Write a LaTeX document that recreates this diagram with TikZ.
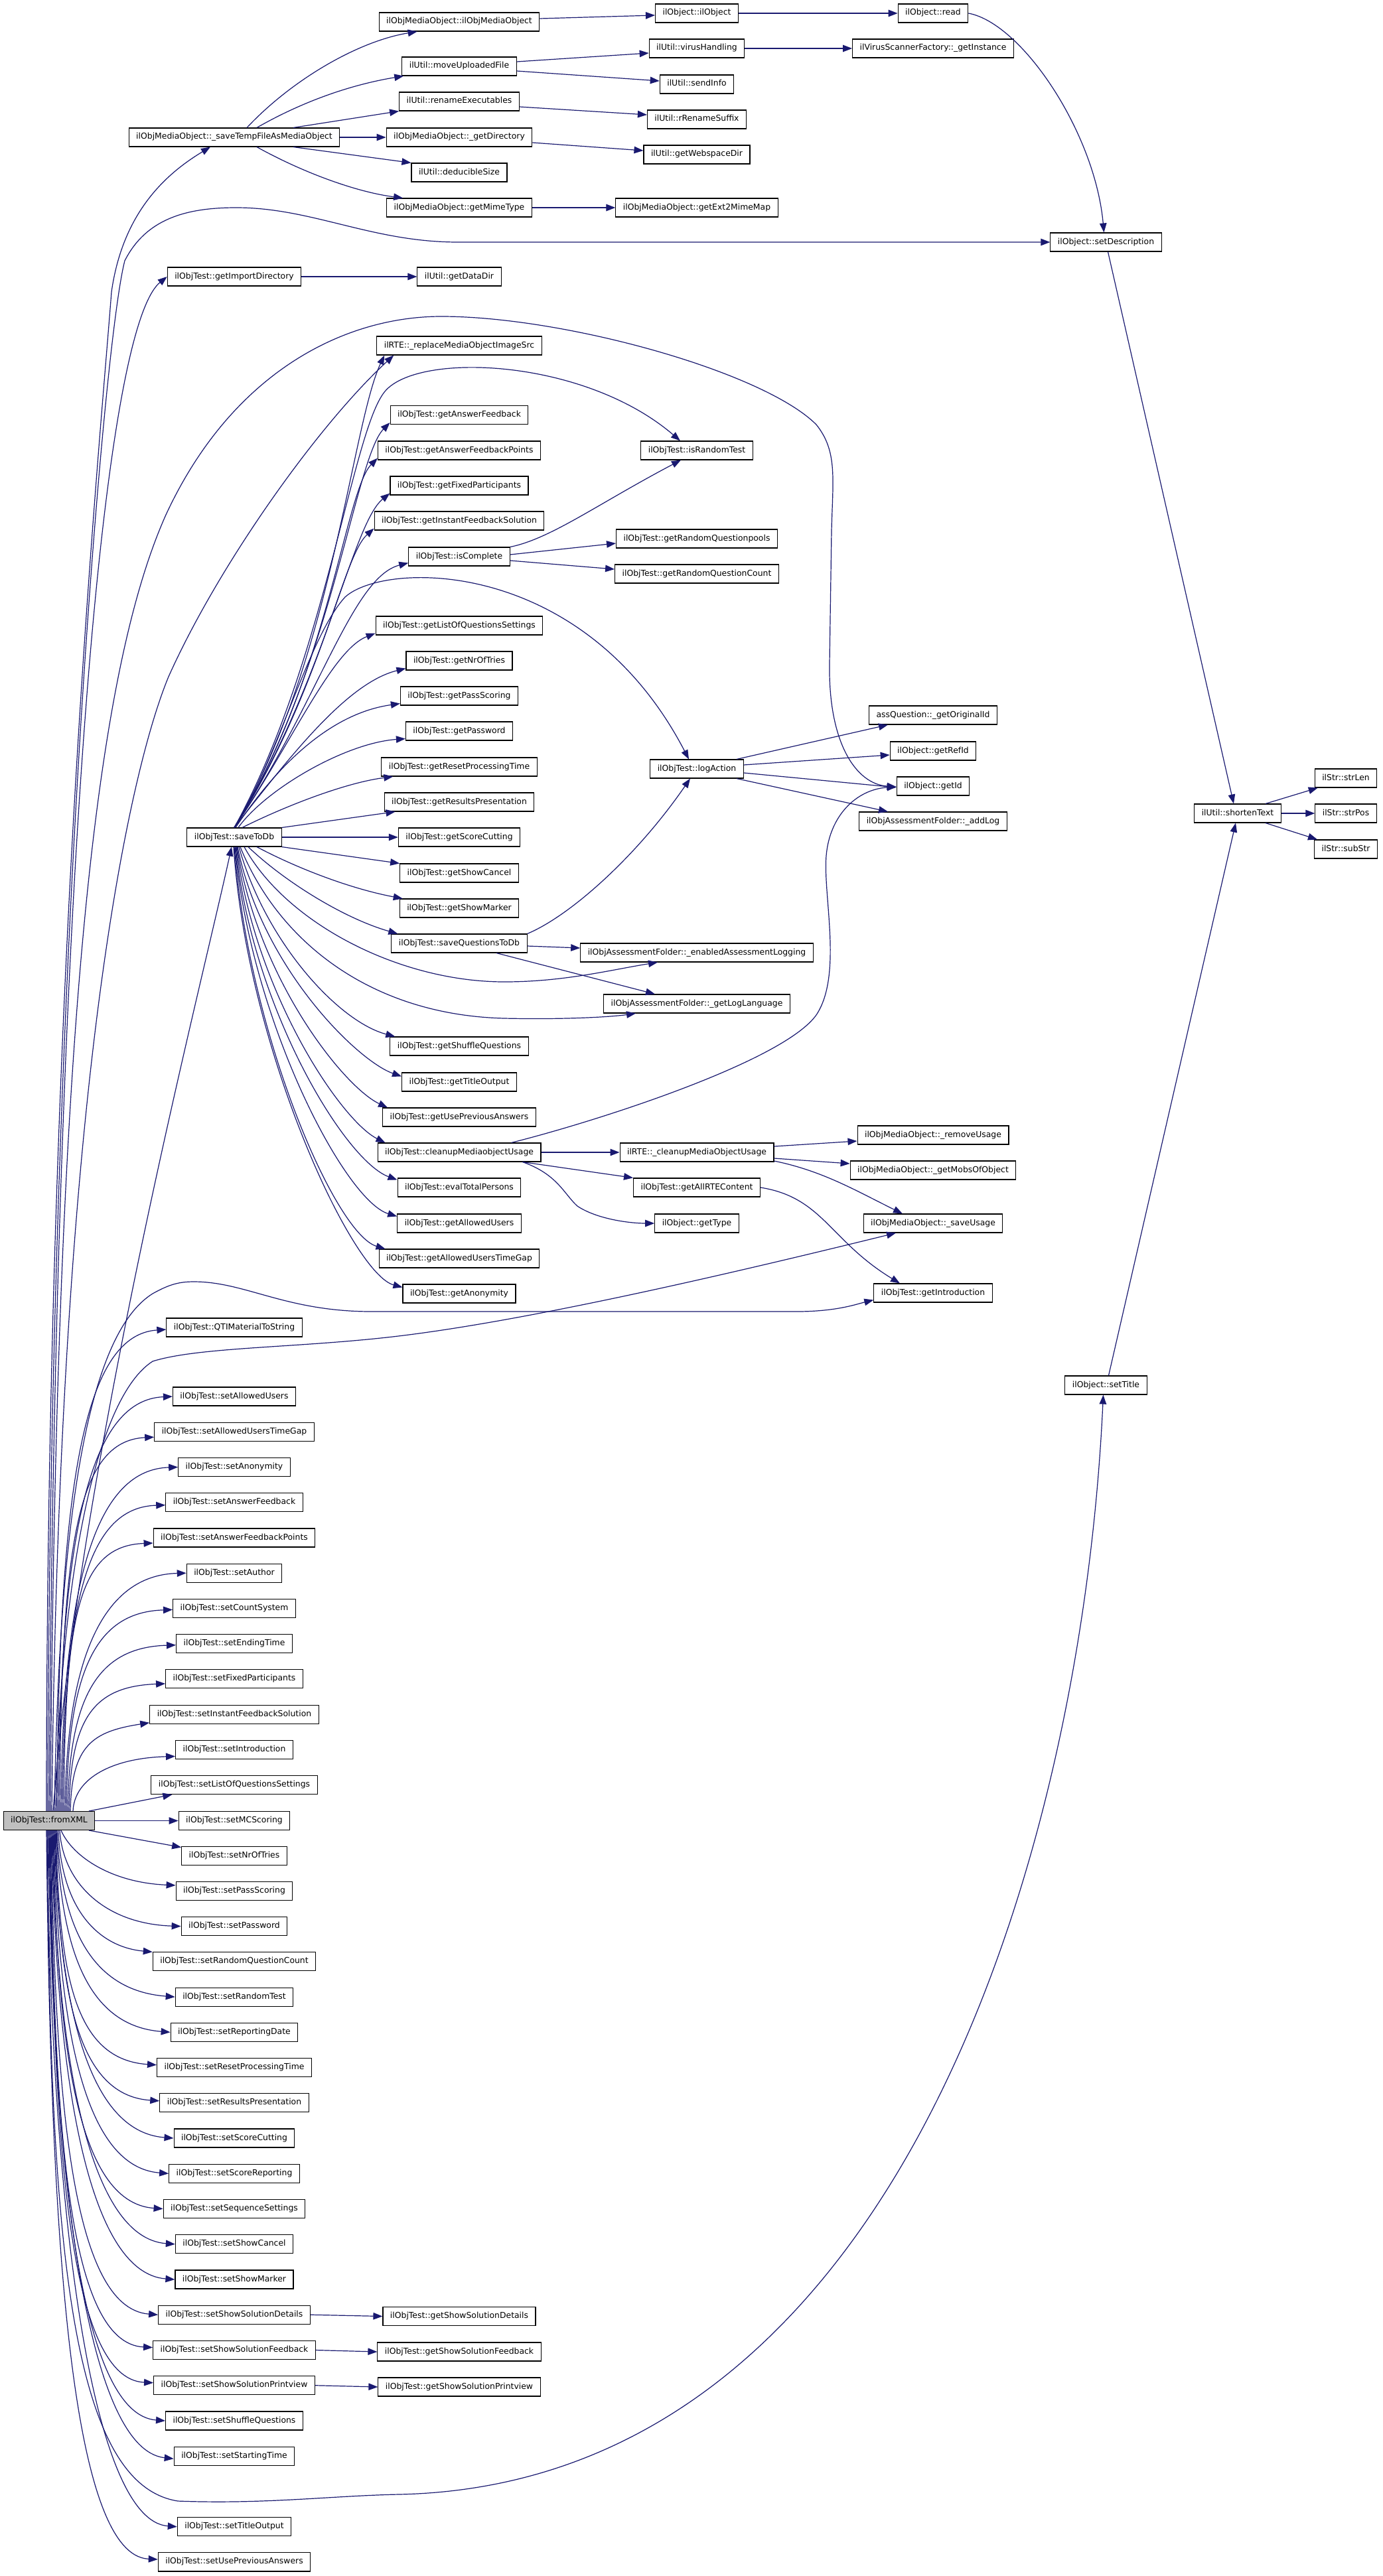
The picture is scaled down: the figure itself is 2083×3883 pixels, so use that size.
\documentclass[tikz,border=0pt]{standalone}
\usepackage{fontspec}
\newfontfamily\dvsans{DejaVu Sans}
\usetikzlibrary{arrows.meta}
\definecolor{callcolor}{HTML}{191970}
\definecolor{rootfill}{HTML}{BFBFBF}

\begin{document}
\begin{tikzpicture}[x=1pt, y=-1pt,
    fn/.style={rectangle, draw=black, fill=white, line width=1.1pt, inner xsep=11pt, inner ysep=0pt, minimum height=28pt, text height=9pt, text depth=3pt, font=\dvsans\fontsize{12.4}{14}\selectfont},
    root/.style={fn, fill=rootfill},
    call/.style={-{Triangle[length=14pt, width=10.5pt]}, draw=callcolor, line width=1.2pt},
  ]
    \path[use as bounding box, fill=white] (0,0) rectangle (2083,3883);

    \node[root] (fx) at (74,2744.5) {ilObjTest::fromXML};

    \node[fn] (stm) at (353,207) {ilObjMediaObject::\_saveTempFileAsMediaObject};
    \node[fn] (gid) at (353,417) {ilObjTest::getImportDirectory};
    \node[fn] (stdb) at (353,1262) {ilObjTest::saveToDb};
    \node[fn] (qti) at (353,2001) {ilObjTest::QTIMaterialToString};
    \node[fn] (sau) at (353,2105) {ilObjTest::setAllowedUsers};
    \node[fn] (sautg) at (353,2158.2) {ilObjTest::setAllowedUsersTimeGap};
    \node[fn] (san) at (353,2211.5) {ilObjTest::setAnonymity};
    \node[fn] (safb) at (353,2264.7) {ilObjTest::setAnswerFeedback};
    \node[fn] (safbp) at (353,2318) {ilObjTest::setAnswerFeedbackPoints};
    \node[fn] (sath) at (353,2371.2) {ilObjTest::setAuthor};
    \node[fn] (scs) at (353,2424.4) {ilObjTest::setCountSystem};
    \node[fn] (sedt) at (353,2477.7) {ilObjTest::setEndingTime};
    \node[fn] (sfp) at (353,2530.9) {ilObjTest::setFixedParticipants};
    \node[fn] (sifs) at (353,2584.2) {ilObjTest::setInstantFeedbackSolution};
    \node[fn] (sint) at (353,2637.4) {ilObjTest::setIntroduction};
    \node[fn] (slqs) at (353,2690.6) {ilObjTest::setListOfQuestionsSettings};
    \node[fn] (smcs) at (353,2744.5) {ilObjTest::setMCScoring};
    \node[fn] (snot) at (353,2797.1) {ilObjTest::setNrOfTries};
    \node[fn] (sps) at (353,2850.4) {ilObjTest::setPassScoring};
    \node[fn] (spw) at (353,2903.6) {ilObjTest::setPassword};
    \node[fn] (srqc) at (353,2956.8) {ilObjTest::setRandomQuestionCount};
    \node[fn] (srt) at (353,3010.1) {ilObjTest::setRandomTest};
    \node[fn] (srd) at (353,3063.3) {ilObjTest::setReportingDate};
    \node[fn] (srpt) at (353,3116.6) {ilObjTest::setResetProcessingTime};
    \node[fn] (srp) at (353,3169.8) {ilObjTest::setResultsPresentation};
    \node[fn] (ssc) at (353,3223) {ilObjTest::setScoreCutting};
    \node[fn] (ssr) at (353,3276.3) {ilObjTest::setScoreReporting};
    \node[fn] (sss) at (353,3329.5) {ilObjTest::setSequenceSettings};
    \node[fn] (sscl) at (353,3382.8) {ilObjTest::setShowCancel};
    \node[fn] (ssm) at (353,3436) {ilObjTest::setShowMarker};
    \node[fn] (sssd) at (353,3489.2) {ilObjTest::setShowSolutionDetails};
    \node[fn] (sssf) at (353,3542.5) {ilObjTest::setShowSolutionFeedback};
    \node[fn] (sssp) at (353,3595.7) {ilObjTest::setShowSolutionPrintview};
    \node[fn] (ssq) at (353,3649) {ilObjTest::setShuffleQuestions};
    \node[fn] (sst) at (353,3702.2) {ilObjTest::setStartingTime};
    \node[fn] (sto) at (353,3808.7) {ilObjTest::setTitleOutput};
    \node[fn] (supa) at (353,3861.9) {ilObjTest::setUsePreviousAnswers};

    \node[fn] (mob) at (692,33) {ilObjMediaObject::ilObjMediaObject};
    \node[fn] (muf) at (692,100) {ilUtil::moveUploadedFile};
    \node[fn] (rex) at (692,153) {ilUtil::renameExecutables};
    \node[fn] (gdir) at (692,207) {ilObjMediaObject::\_getDirectory};
    \node[fn] (dsz) at (692,260) {ilUtil::deducibleSize};
    \node[fn] (gmt) at (692,313) {ilObjMediaObject::getMimeType};
    \node[fn] (gdd) at (692,417) {ilUtil::getDataDir};
    \node[fn] (rms) at (692,521) {ilRTE::\_replaceMediaObjectImageSrc};
    \node[fn] (gafb) at (692,625.5) {ilObjTest::getAnswerFeedback};
    \node[fn] (gafbp) at (692,679) {ilObjTest::getAnswerFeedbackPoints};
    \node[fn] (gfp) at (692,732) {ilObjTest::getFixedParticipants};
    \node[fn] (gifs) at (692,785) {ilObjTest::getInstantFeedbackSolution};
    \node[fn] (isc) at (692,839) {ilObjTest::isComplete};
    \node[fn] (glqs) at (692,943) {ilObjTest::getListOfQuestionsSettings};
    \node[fn] (gnot) at (692,996) {ilObjTest::getNrOfTries};
    \node[fn] (gps) at (692,1049) {ilObjTest::getPassScoring};
    \node[fn] (gpw) at (692,1102) {ilObjTest::getPassword};
    \node[fn] (grpt) at (692,1156) {ilObjTest::getResetProcessingTime};
    \node[fn] (grp) at (692,1209) {ilObjTest::getResultsPresentation};
    \node[fn] (gsc) at (692,1262) {ilObjTest::getScoreCutting};
    \node[fn] (gscl) at (692,1316) {ilObjTest::getShowCancel};
    \node[fn] (gsm) at (692,1369) {ilObjTest::getShowMarker};
    \node[fn] (sqtd) at (692,1422) {ilObjTest::saveQuestionsToDb};
    \node[fn] (gsq) at (692,1577) {ilObjTest::getShuffleQuestions};
    \node[fn] (gto) at (692,1631) {ilObjTest::getTitleOutput};
    \node[fn] (gupa) at (692,1684) {ilObjTest::getUsePreviousAnswers};
    \node[fn] (cmu) at (692,1737) {ilObjTest::cleanupMediaobjectUsage};
    \node[fn] (etp) at (692,1790) {ilObjTest::evalTotalPersons};
    \node[fn] (gau) at (692,1844) {ilObjTest::getAllowedUsers};
    \node[fn] (gaut) at (692,1897) {ilObjTest::getAllowedUsersTimeGap};
    \node[fn] (gan) at (692,1950) {ilObjTest::getAnonymity};
    \node[fn] (gssd) at (692,3491.5) {ilObjTest::getShowSolutionDetails};
    \node[fn] (gssf) at (692,3545) {ilObjTest::getShowSolutionFeedback};
    \node[fn] (gssp) at (692,3598) {ilObjTest::getShowSolutionPrintview};

    \node[fn] (obj) at (1050,20) {ilObject::ilObject};
    \node[fn] (vh) at (1050,73) {ilUtil::virusHandling};
    \node[fn] (sinf) at (1050,127) {ilUtil::sendInfo};
    \node[fn] (rrs) at (1050,180) {ilUtil::rRenameSuffix};
    \node[fn] (gwd) at (1050,233) {ilUtil::getWebspaceDir};
    \node[fn] (e2m) at (1050,313) {ilObjMediaObject::getExt2MimeMap};
    \node[fn] (isr) at (1050,679) {ilObjTest::isRandomTest};
    \node[fn] (grqp) at (1050,812) {ilObjTest::getRandomQuestionpools};
    \node[fn] (grqc) at (1050,865) {ilObjTest::getRandomQuestionCount};
    \node[fn] (la) at (1050,1159) {ilObjTest::logAction};
    \node[fn] (eal) at (1050,1436) {ilObjAssessmentFolder::\_enabledAssessmentLogging};
    \node[fn] (gll) at (1050,1513) {ilObjAssessmentFolder::\_getLogLanguage};
    \node[fn] (rcmu) at (1050,1737) {ilRTE::\_cleanupMediaObjectUsage};
    \node[fn] (gart) at (1050,1790) {ilObjTest::getAllRTEContent};
    \node[fn] (gty) at (1050,1844) {ilObject::getType};

    \node[fn] (rd) at (1406,20) {ilObject::read};
    \node[fn] (vsf) at (1406,73) {ilVirusScannerFactory::\_getInstance};
    \node[fn] (goi) at (1406,1078) {assQuestion::\_getOriginalId};
    \node[fn] (gri) at (1406,1132) {ilObject::getRefId};
    \node[fn] (gi) at (1406,1185) {ilObject::getId};
    \node[fn] (alog) at (1406,1238) {ilObjAssessmentFolder::\_addLog};
    \node[fn] (rmu) at (1406,1711) {ilObjMediaObject::\_removeUsage};
    \node[fn] (gmo) at (1406,1764) {ilObjMediaObject::\_getMobsOfObject};
    \node[fn] (sus) at (1406,1844) {ilObjMediaObject::\_saveUsage};
    \node[fn] (gint) at (1406,1949) {ilObjTest::getIntroduction};

    \node[fn] (sd) at (1666.5,365) {ilObject::setDescription};
    \node[fn] (stt) at (1666.5,2088) {ilObject::setTitle};
    \node[fn] (stx) at (1865,1226) {ilUtil::shortenText};
    \node[fn] (sln) at (2028,1173) {ilStr::strLen};
    \node[fn] (spo) at (2028,1226) {ilStr::strPos};
    \node[fn] (sbs) at (2028,1280) {ilStr::subStr};

    \draw[call] ([xshift=19pt]stm.north) .. controls (440,120) and (540,62) .. ([xshift=58pt]mob.south west);
    \draw[call] ([xshift=34pt]stm.north) .. controls (470,145) and (545,125) .. ([xshift=3pt]muf.south west);
    \draw[call] ([xshift=89pt]stm.north) -- (rex.south west);
    \draw[call] (stm.east) -- (gdir.west);
    \draw[call] ([xshift=89pt]stm.south) -- (dsz.north west);
    \draw[call] ([xshift=34pt]stm.south) .. controls (460,262) and (540,290) .. ([xshift=25pt]gmt.north west);
    \draw[call] ([yshift=5pt]mob.east) -- ([yshift=-3pt]obj.west);
    \draw[call] ([yshift=7pt]muf.east) -- ([yshift=-7pt]vh.west);
    \draw[call] ([yshift=-7pt]muf.east) -- ([yshift=5pt]sinf.west);
    \draw[call] ([yshift=-8pt]rex.east) -- ([yshift=7pt]rrs.west);
    \draw[call] ([yshift=-8pt]gdir.east) -- ([yshift=6pt]gwd.west);
    \draw[call] (gmt.east) -- (e2m.west);
    \draw[call] (obj.east) -- (rd.west);
    \draw[call] (vh.east) -- (vsf.west);
    \draw[call] (gid.east) -- (gdd.west);
    \draw[call] (rd.east) .. controls (1540,35) and (1650,200) .. ([xshift=-3pt]sd.north);
    \draw[call] ([xshift=3pt]sd.south) -- ([xshift=-6pt]stx.north);
    \draw[call] ([xshift=4pt]stt.north) -- ([xshift=-3pt]stx.south);
    \draw[call] ([xshift=42pt]stx.north) -- ([xshift=5pt]sln.south west);
    \draw[call] (stx.east) -- (spo.west);
    \draw[call] ([xshift=42pt]stx.south) -- ([xshift=5pt]sbs.north west);

    \draw[call] ([xshift=-4pt]fx.north) .. controls (70,1500) and (148,700) .. (168,440) .. controls (185,320) and (250,262) .. ([xshift=-36pt]stm.south);
    \draw[call] ([xshift=-2pt]fx.north) .. controls (74,1500) and (155,520) .. (188,393) .. controls (220,330) and (280,313) .. (356,313) .. controls (470,313) and (560,365) .. (690,365) -- (sd.west);
    \draw[call] (fx.north) .. controls (82,1400) and (150,500) .. (gid.west);
    \draw[call] ([xshift=2pt]fx.north) .. controls (84,1500) and (150,1000) .. (250,776) .. controls (350,560) and (520,477) .. (665,477) .. controls (850,477) and (1150,560) .. (1230,640) .. controls (1262,680) and (1255,720) .. (1253,800) -- (1250,1000) .. controls (1248,1120) and (1290,1182) .. ([yshift=-1pt]gi.west);
    \draw[call] ([xshift=4pt]fx.north) .. controls (90,1600) and (200,1150) .. (254,1020) .. controls (330,850) and (480,640) .. ([xshift=26pt]rms.south west);
    \draw[call] ([xshift=6pt]fx.north) .. controls (120,2200) and (300,1500) .. ([xshift=-4pt]stdb.south);
    \draw[call] ([xshift=8pt]fx.north) .. controls (90,2200) and (150,2000) .. (230,1950) .. controls (255,1936) and (270,1932) .. (292,1932) .. controls (370,1932) and (430,1977) .. (560,1977) -- (1200,1977) .. controls (1260,1977) and (1290,1966) .. ([yshift=4pt]gint.south west);
    \draw[call] ([xshift=10pt]fx.north) .. controls (90,2400) and (140,2110) .. (230,2052) .. controls (300,2030) and (450,2032) .. (600,2014) .. controls (800,1990) and (1100,1920) .. ([xshift=-56pt]sus.south);
    \draw[call] ([xshift=12pt]fx.north) .. controls (88,2220) and (130,2012) .. ([yshift=-3pt]qti.west);
    \draw[call] ([xshift=14pt]fx.north) .. controls (90,2292) and (140,2110) .. (sau.west);
    \draw[call] ([xshift=16pt]fx.north) .. controls (92,2330) and (115,2172) .. ([yshift=-8pt]sautg.west);
    \draw[call] ([xshift=18pt]fx.north) .. controls (94,2367) and (150,2215) .. (san.west);
    \draw[call] ([xshift=20pt]fx.north) .. controls (96,2404) and (135,2272) .. ([yshift=-4pt]safb.west);
    \draw[call] ([xshift=22pt]fx.north) .. controls (98,2442) and (115,2330) .. ([yshift=-8pt]safbp.west);
    \draw[call] ([xshift=24pt]fx.north) .. controls (100,2479) and (165,2374) .. (sath.west);
    \draw[call] ([xshift=26pt]fx.north) .. controls (102,2516) and (145,2430) .. ([yshift=-2pt]scs.west);
    \draw[call] ([xshift=28pt]fx.north) .. controls (104,2553) and (150,2483) .. ([yshift=-2pt]sedt.west);
    \draw[call] ([xshift=30pt]fx.north) .. controls (106,2591) and (140,2542) .. ([yshift=-7pt]sfp.west);
    \draw[call] ([xshift=32pt]fx.north) .. controls (108,2630) and (140,2610) .. ([yshift=2pt]sifs.south west);
    \draw[call] ([xshift=36pt]fx.north) .. controls (112,2680) and (170,2650) .. ([yshift=-10pt]sint.west);
    \draw[call] ([xshift=60pt]fx.north) -- ([xshift=32pt]slqs.south west);
    \draw[call] (fx.east) -- (smcs.west);
    \draw[call] ([xshift=60pt]fx.south) -- ([yshift=-2pt]snot.north west);
    \draw[call] ([xshift=18pt]fx.south) .. controls (110,2800) and (170,2838) .. ([yshift=-6pt]sps.north west);
    \draw[call] ([xshift=16pt]fx.south) .. controls (95,2840) and (160,2900) .. (spw.west);
    \draw[call] ([xshift=14pt]fx.south) .. controls (92,2880) and (150,2935) .. (srqc.north west);
    \draw[call] ([xshift=12pt]fx.south) .. controls (92,2897) and (133,3000) .. (srt.west);
    \draw[call] ([xshift=11pt]fx.south) .. controls (91,2926) and (126,3053) .. (srd.west);
    \draw[call] ([xshift=10pt]fx.south) .. controls (90,2956) and (104,3104) .. ([yshift=4pt]srpt.west);
    \draw[call] ([xshift=9pt]fx.south) .. controls (89,2985) and (109,3158) .. ([yshift=3pt]srp.west);
    \draw[call] ([xshift=8pt]fx.south) .. controls (88,3014) and (130,3213) .. (ssc.west);
    \draw[call] ([xshift=7pt]fx.south) .. controls (87,3044) and (123,3266) .. (ssr.west);
    \draw[call] ([xshift=6pt]fx.south) .. controls (86,3073) and (113,3320) .. (sss.west);
    \draw[call] ([xshift=5pt]fx.south) .. controls (85,3102) and (134,3373) .. (sscl.west);
    \draw[call] ([xshift=4pt]fx.south) .. controls (84,3131) and (132,3426) .. (ssm.west);
    \draw[call] ([xshift=3pt]fx.south) .. controls (83,3161) and (107,3479) .. (sssd.west);
    \draw[call] ([xshift=2pt]fx.south) .. controls (82,3190) and (99,3532) .. ([yshift=4pt]sssf.west);
    \draw[call] ([xshift=1pt]fx.south) .. controls (81,3219) and (101,3586) .. ([yshift=4pt]sssp.west);
    \draw[call] (fx.south) .. controls (80,3248) and (118,3639) .. (ssq.west);
    \draw[call] ([xshift=-1pt]fx.south) .. controls (79,3278) and (131,3692) .. ([yshift=-4pt]sst.west);
    \draw[call] ([xshift=-2pt]fx.south) .. controls (74,3400) and (110,3745) .. (268,3770) .. controls (400,3775) and (500,3762) .. (600,3760) .. controls (1350,3745) and (1630,2800) .. ([xshift=-4pt]stt.south);
    \draw[call] ([xshift=-3pt]fx.south) .. controls (77,3336) and (137,3799) .. (sto.west);
    \draw[call] ([xshift=-4pt]fx.south) .. controls (76,3365) and (105,3852) .. ([yshift=4pt]supa.west);
    \draw[call] (sssd.east) -- (gssd.west);
    \draw[call] (sssf.east) -- (gssf.west);
    \draw[call] (sssp.east) -- (gssp.west);

    \draw[call] (stdb.north) .. controls (500,1000) and (530,640) .. ([xshift=12pt]rms.south west);
    \draw[call] (stdb.north) .. controls (500,1010) and (535,690) .. ([yshift=3pt]gafb.south west);
    \draw[call] (stdb.north) .. controls (495,1020) and (520,740) .. ([yshift=3pt]gafbp.south west);
    \draw[call] (stdb.north) .. controls (490,1030) and (530,790) .. ([yshift=3pt]gfp.south west);
    \draw[call] (stdb.north) .. controls (485,1040) and (515,840) .. ([yshift=3pt]gifs.south west);
    \draw[call] (stdb.north) .. controls (480,1060) and (530,870) .. ([yshift=5pt]isc.south west);
    \draw[call] (stdb.north) .. controls (440,1120) and (500,980) .. ([yshift=3pt]glqs.south west);
    \draw[call] (stdb.north) .. controls (430,1150) and (520,1030) .. ([yshift=3pt]gnot.south west);
    \draw[call] ([xshift=2pt]stdb.north) .. controls (420,1150) and (500,1075) .. ([yshift=3pt]gps.south west);
    \draw[call] ([xshift=6pt]stdb.north) .. controls (400,1190) and (520,1120) .. ([yshift=3pt]gpw.south west);
    \draw[call] ([xshift=12pt]stdb.north) .. controls (430,1215) and (520,1180) .. ([xshift=18pt]grpt.south west);
    \draw[call] (stdb.north east) -- ([xshift=17pt]grp.south west);
    \draw[call] (stdb.east) -- (gsc.west);
    \draw[call] (stdb.south east) -- (gscl.north west);
    \draw[call] ([xshift=34pt]stdb.south) .. controls (450,1310) and (530,1340) .. ([xshift=5pt]gsm.north west);
    \draw[call] ([xshift=21pt]stdb.south) .. controls (430,1330) and (520,1385) .. ([xshift=10pt]sqtd.north west);
    \draw[call] ([xshift=15pt]stdb.south) .. controls (430,1390) and (600,1480) .. (760,1480) .. controls (850,1480) and (920,1462) .. ([xshift=-59pt]eal.south);
    \draw[call] ([xshift=9pt]stdb.south) .. controls (420,1420) and (560,1530) .. (760,1535) .. controls (850,1537) and (920,1533) .. ([xshift=-92pt]gll.south);
    \draw[call] ([xshift=7pt]stdb.south) .. controls (400,1420) and (510,1540) .. ([xshift=8pt]gsq.north west);
    \draw[call] ([xshift=5pt]stdb.south) .. controls (395,1460) and (540,1600) .. ([yshift=-6pt]gto.north west);
    \draw[call] ([xshift=4pt]stdb.south) .. controls (390,1480) and (520,1640) .. ([xshift=8pt]gupa.north west);
    \draw[call] ([xshift=3pt]stdb.south) .. controls (385,1500) and (515,1690) .. ([xshift=12pt]cmu.north west);
    \draw[call] ([xshift=2pt]stdb.south) .. controls (380,1520) and (520,1750) .. ([yshift=-3pt]etp.north west);
    \draw[call] ([xshift=1pt]stdb.south) .. controls (378,1540) and (520,1810) .. ([yshift=-4pt]gau.north west);
    \draw[call] (stdb.south) .. controls (375,1560) and (505,1860) .. ([xshift=10pt]gaut.north west);
    \draw[call] ([xshift=-1pt]stdb.south) .. controls (372,1580) and (530,1920) .. ([yshift=-5pt]gan.north west);
    \draw[call] (stdb.north) .. controls (490,1000) and (530,650) .. (580,590) .. controls (630,530) and (880,540) .. ([xshift=-25pt]isr.north);
    \draw[call] (stdb.north) .. controls (420,1140) and (465,960) .. (520,900) .. controls (580,845) and (880,840) .. ([xshift=-12pt]la.north);

    \draw[call] (isc.north east) .. controls (830,812) and (900,760) .. ([xshift=-24pt]isr.south);
    \draw[call] ([yshift=3pt]isc.east) -- ([yshift=-7pt]grqp.west);
    \draw[call] ([yshift=-6pt]isc.east) -- ([yshift=7pt]grqc.west);
    \draw[call] (sqtd.north east) .. controls (860,1380) and (960,1290) .. ([xshift=-10pt]la.south);
    \draw[call] ([yshift=-4pt]sqtd.east) -- ([yshift=7pt]eal.west);
    \draw[call] ([xshift=56pt]sqtd.south) -- ([xshift=-63pt]gll.north);
    \draw[call] ([xshift=60pt]la.north) -- ([xshift=-68pt]goi.south);
    \draw[call] ([yshift=6pt]la.east) -- ([yshift=-6pt]gri.west);
    \draw[call] ([yshift=-6pt]la.east) -- ([yshift=-2pt]gi.west);
    \draw[call] ([xshift=60pt]la.south) -- ([xshift=-68pt]alog.north);

    \draw[call] (cmu.east) -- (rcmu.west);
    \draw[call] ([xshift=-28pt]cmu.south east) -- (gart.north west);
    \draw[call] ([xshift=-28pt]cmu.south east) .. controls (840,1770) and (850,1800) .. (870,1818) .. controls (900,1838) and (950,1844) .. (gty.west);
    \draw[call] ([xshift=-45pt]cmu.north east) .. controls (900,1690) and (1180,1600) .. (1230,1530) .. controls (1270,1470) and (1240,1350) .. (1245,1290) .. controls (1250,1230) and (1290,1190) .. ([yshift=-1pt]gi.west);
    \draw[call] ([yshift=9pt]rcmu.east) -- ([yshift=-9pt]rmu.west);
    \draw[call] ([yshift=-9pt]rcmu.east) -- ([yshift=10pt]gmo.west);
    \draw[call] ([yshift=-13pt]rcmu.east) .. controls (1240,1765) and (1290,1795) .. ([xshift=-46pt]sus.north);
    \draw[call] (gart.east) .. controls (1240,1805) and (1250,1870) .. ([xshift=-50pt]gint.north);
  \end{tikzpicture}
\end{document}
